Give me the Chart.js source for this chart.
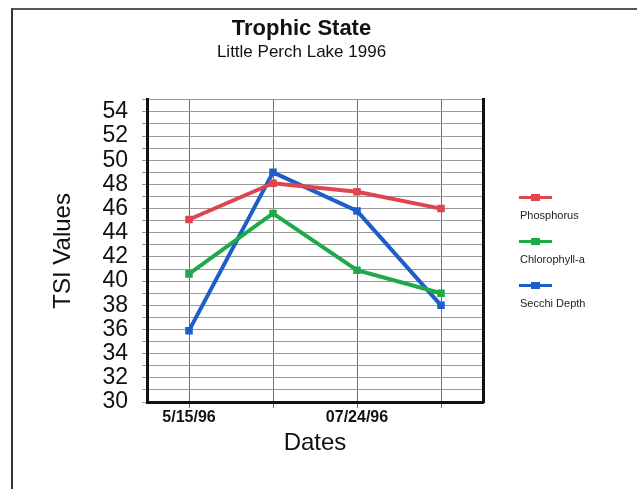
<!DOCTYPE html>
<html>
<head>
<meta charset="utf-8">
<script src="https://cdn.jsdelivr.net/npm/chart.js@4/dist/chart.umd.min.js"></script>
<style>
  body { margin: 0; background: #fff; font-family: 'Liberation Sans', Arial, sans-serif; }
  #page { position: relative; width: 637px; height: 489px; overflow: hidden; }
  #frame { position: absolute; left: 11px; top: 8px; width: 640px; height: 500px;
           border-left: 2px solid #333; border-top: 2px solid #555; }
  #chart { position: absolute; left: 0; top: 0; }
  #legend { position: absolute; left: 0; top: 0; }
  .item { position: absolute; left: 519px; }
  .sample { position: absolute; left: 0; top: 0; width: 33px; height: 3px; }
  .sample span { position: absolute; left: 12px; top: -2px; width: 9px; height: 7px; }
  .label { position: absolute; left: 1px; top: 13px; font-size: 11px; color: #222; white-space: nowrap; }
</style>
</head>
<body>
<div id="page">
  <div id="frame"></div>
  <canvas id="chart" width="554" height="489"></canvas>
  <div id="legend"></div>
</div>
<script>
var dates = ['5/15/96', '', '07/24/96', ''];
var phosphorus = [45.1, 48.1, 47.4, 46.0];
var chlorophyll = [40.6, 45.6, 40.9, 39.0];
var secchi = [35.9, 49.0, 45.8, 38.0];
var seriesNames = ['Phosphorus', 'Chlorophyll-a', 'Secchi Depth'];
var seriesColors = ['#e0454f', '#1faa4a', '#1e5ec8'];

function makeSet(i, values) {
    return {
        label: seriesNames[i],
        data: values,
        borderColor: seriesColors[i],
        backgroundColor: seriesColors[i],
        borderWidth: 4,
        pointStyle: 'rect',
        pointRadius: 2.5,
        tension: 0,
        fill: false
    };
}

var chart = new Chart(document.getElementById('chart'), {
    type: 'line',
    data: {
        labels: dates,
        datasets: [makeSet(0, phosphorus), makeSet(1, chlorophyll), makeSet(2, secchi)]
    },
    options: {
        responsive: false,
        animation: false,
        layout: { padding: { left: 49, right: 0, top: 16, bottom: 31 } },
        plugins: {
            legend: { display: false },
            tooltip: { enabled: false },
            title: {
                display: true,
                text: 'Trophic State',
                color: '#111',
                font: { family: 'Liberation Sans', size: 22, weight: 'bold', lineHeight: 1.2 },
                padding: { top: 0, bottom: 0 }
            },
            subtitle: {
                display: true,
                text: 'Little Perch Lake 1996',
                color: '#111',
                font: { family: 'Liberation Sans', size: 17, lineHeight: 1.2 },
                padding: { top: 0, bottom: 37 }
            }
        },
        scales: {
            x: {
                offset: true,
                grid: { color: '#6e6e6e', lineWidth: 1, tickLength: 6 },
                border: { color: '#111', width: 3 },
                ticks: {
                    autoSkip: false, maxRotation: 0, padding: 0, color: '#111',
                    font: { family: 'Liberation Sans', size: 16, weight: 'bold' }
                },
                title: {
                    display: true, text: 'Dates', color: '#111',
                    font: { family: 'Liberation Sans', size: 24 },
                    padding: { top: 0, bottom: 0 }
                },
                afterFit: function (scale) { scale.width = scale.width; scale.height = 56; }
            },
            y: {
                min: 30,
                max: 55,
                grid: { color: '#9a9a9a', lineWidth: 1, tickLength: 5 },
                border: { color: '#111', width: 3 },
                ticks: {
                    stepSize: 1, autoSkip: false, padding: 14, color: '#111',
                    font: { family: 'Liberation Sans', size: 23 },
                    callback: function (v) { return (v % 2 === 0 && v < 55) ? v : ''; }
                },
                title: {
                    display: true, text: 'TSI Values', color: '#111',
                    font: { family: 'Liberation Sans', size: 24 },
                    padding: { top: 0, bottom: 0 }
                },
                afterFit: function (scale) { scale.width = 98; }
            },
            y2: {
                position: 'right',
                grid: { display: false, drawTicks: false },
                ticks: { display: false },
                border: { display: true, color: '#111', width: 3 },
                afterFit: function (scale) { scale.width = 71; }
            }
        }
    }
});

// legend: line sample with text underneath, built from the datasets
var legend = document.getElementById('legend');
chart.data.datasets.forEach(function (ds, i) {
    var item = document.createElement('div');
    item.className = 'item';
    item.style.top = (196 + i * 44) + 'px';
    var sample = document.createElement('div');
    sample.className = 'sample';
    sample.style.background = ds.borderColor;
    var mark = document.createElement('span');
    mark.style.background = ds.borderColor;
    sample.appendChild(mark);
    var label = document.createElement('div');
    label.className = 'label';
    label.textContent = ds.label;
    item.appendChild(sample);
    item.appendChild(label);
    legend.appendChild(item);
});
</script>
</body>
</html>
